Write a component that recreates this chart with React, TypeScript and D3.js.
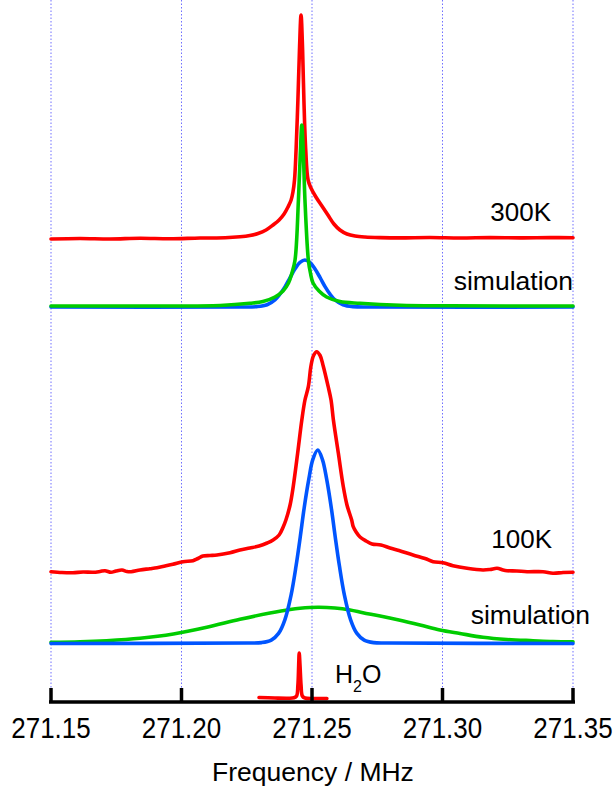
import React from "react";
import * as d3 from "d3";

// ---- Data (frequency in MHz, intensity in a.u. with vertical offsets) ----
const TICKS = [271.15, 271.2, 271.25, 271.3, 271.35];
const TICK_LABELS = ["271.15", "271.20", "271.25", "271.30", "271.35"];

// 300 K measured spectrum
const F_300K = [271.15, 271.1611, 271.1726, 271.1841, 271.1956, 271.2071, 271.2167, 271.2224, 271.2262, 271.2293, 271.2324, 271.2351, 271.2374, 271.2393, 271.2408, 271.242, 271.2427, 271.2433, 271.2439, 271.2446, 271.2452, 271.2458, 271.2464, 271.2469, 271.2476, 271.2485, 271.2496, 271.2515, 271.2538, 271.2561, 271.2584, 271.2607, 271.2634, 271.2665, 271.2703, 271.2761, 271.2837, 271.2952, 271.3067, 271.3182, 271.3297, 271.3412, 271.35];
const I_300K = [463, 463.5, 463, 463.7, 463.2, 464, 464.2, 465.2, 466.5, 468.5, 472, 477, 482, 488, 495, 502, 510, 522, 552, 602, 652, 687, 652, 602, 552, 522, 514, 505, 496, 487, 478, 472, 468, 466, 465, 464.4, 464.1, 464.5, 464, 464.4, 464.1, 464.4, 464.3];

// 300 K simulation (blue, gaussian-like)
const F_SIM300_B = [271.15, 271.2224, 271.2289, 271.2328, 271.2358, 271.2377, 271.2397, 271.2416, 271.2435, 271.2454, 271.2473, 271.2492, 271.2511, 271.2531, 271.255, 271.2569, 271.2588, 271.2619, 271.2657, 271.2722, 271.35];
const I_SIM300_B = [395, 395, 395.4, 397.3, 402.2, 407.8, 415.4, 424.4, 433.2, 439.6, 442, 439.6, 433.2, 424.4, 415.4, 407.8, 402.2, 397.3, 395.4, 395, 395];

// 300 K simulation (green, narrow lorentzian-like)
const F_SIM300_G = [271.15, 271.1879, 271.2148, 271.2262, 271.2312, 271.2358, 271.2389, 271.241, 271.2423, 271.2435, 271.2448, 271.2455, 271.2461, 271.2467, 271.2473, 271.2486, 271.2494, 271.2504, 271.2527, 271.2556, 271.2607, 271.2684, 271.2837, 271.3029, 271.35];
const I_SIM300_G = [396, 396, 396.5, 398.7, 400.5, 405, 411, 419, 429, 442, 502, 547, 577, 547, 502, 442, 429, 419, 411, 405, 400.5, 398.7, 396.7, 396.2, 396];

// 100 K measured spectrum
const F_100K = [271.15, 271.1542, 271.1584, 271.1623, 271.1661, 271.1688, 271.1707, 271.173, 271.1749, 271.1772, 271.1791, 271.1807, 271.1841, 271.1879, 271.1906, 271.1937, 271.1967, 271.2006, 271.2044, 271.2063, 271.2082, 271.2109, 271.2136, 271.2186, 271.2224, 271.2262, 271.2297, 271.2328, 271.2351, 271.2374, 271.239, 271.24, 271.2416, 271.2428, 271.2445, 271.2461, 271.2473, 271.2486, 271.2496, 271.2506, 271.2518, 271.2531, 271.2543, 271.2562, 271.2573, 271.2582, 271.2601, 271.262, 271.2634, 271.2652, 271.2658, 271.2669, 271.2684, 271.2707, 271.273, 271.2764, 271.2799, 271.2833, 271.2887, 271.2933, 271.2964, 271.3002, 271.304, 271.3094, 271.3155, 271.3182, 271.3209, 271.3232, 271.3247, 271.3285, 271.3324, 271.3385, 271.3423, 271.3462, 271.35];
const I_100K = [130.3, 129.5, 129.3, 130, 129.7, 130.5, 131.3, 129.7, 131, 132, 130.5, 130.3, 132, 133.3, 134.3, 136, 137.7, 140.3, 141.3, 143.5, 146, 146.5, 147, 149.3, 152, 154, 156, 159, 162, 167, 175.3, 182, 197, 215.3, 248.7, 282, 302, 315.3, 336, 346.5, 350.3, 346.5, 336, 315.3, 302, 282, 248.7, 215.3, 197, 182, 175.3, 170, 165, 161, 158, 157, 154, 151.5, 147, 143.5, 140.3, 139.3, 136.3, 133.7, 132, 132.5, 133.7, 132, 131.3, 131, 130.3, 130.3, 128.7, 129.5, 129.7];

// 100 K simulation (blue, narrow)
const F_SIM100_B = [271.15, 271.2254, 271.2307, 271.2344, 271.2372, 271.2396, 271.242, 271.2439, 271.2455, 271.247, 271.2488, 271.2503, 271.2522, 271.254, 271.2556, 271.2574, 271.2589, 271.2605, 271.2624, 271.2648, 271.2672, 271.27, 271.2736, 271.279, 271.35];
const I_SIM100_B = [58.5, 59, 59.4, 61.9, 68.6, 82.2, 107.2, 136.2, 165.1, 194.1, 223.1, 242.4, 252, 242.4, 223.1, 194.1, 165.1, 136.2, 107.2, 82.2, 68.6, 61.9, 59.4, 59, 58.5];

// 100 K simulation (green, broad)
const F_SIM100_G = [271.15, 271.1611, 271.1713, 271.1841, 271.1969, 271.2097, 271.2224, 271.2339, 271.2416, 271.2454, 271.2523, 271.2588, 271.2646, 271.2695, 271.2761, 271.2833, 271.2914, 271.299, 271.3067, 271.3155, 271.3247, 271.3347, 271.3423, 271.35];
const I_SIM100_G = [59.7, 60.2, 61.3, 63.7, 68, 74.7, 82.7, 89, 92.5, 93.7, 94.7, 94, 92, 89.3, 86, 82, 77, 72, 68.5, 64.7, 62.5, 61.3, 60.5, 60.3];

// H2O reference
const F_H2O = [271.2297, 271.2358, 271.2408, 271.2431, 271.2441, 271.2446, 271.2449, 271.2451, 271.2454, 271.2458, 271.2463, 271.2473, 271.2511, 271.2557];
const I_H2O = [4.5, 4, 3.8, 4.2, 6, 17, 37, 49, 37, 17, 6, 4, 3.5, 3.5];

const FONT = "'Liberation Sans', Arial, Helvetica, sans-serif";
const RED = "#ff0000";
const GREEN = "#00cc00";
const BLUE = "#0055ff";
const GRID = "#6f6fff";

export default function App() {
  const W = 616;
  const H = 787;
  const x = d3.scaleLinear().domain([271.15, 271.35]).range([51, 573]);
  const y = d3.scaleLinear().domain([0, 702]).range([702, 0]);
  const line = d3
    .line<[number, number]>()
    .x((d) => x(d[0]))
    .y((d) => y(d[1]))
    .curve(d3.curveCatmullRom.alpha(0.5));
  const path = (f: number[], v: number[]) =>
    line(f.map((fi, i) => [fi, v[i]] as [number, number])) || "";

  const axisY = y(0);
  const tickLen = 14;

  const series = [
    { f: F_300K, v: I_300K, c: RED },
    { f: F_SIM300_B, v: I_SIM300_B, c: BLUE },
    { f: F_SIM300_G, v: I_SIM300_G, c: GREEN },
    { f: F_100K, v: I_100K, c: RED },
    { f: F_SIM100_G, v: I_SIM100_G, c: GREEN },
    { f: F_SIM100_B, v: I_SIM100_B, c: BLUE },
    { f: F_H2O, v: I_H2O, c: RED },
  ];

  return (
    <svg
      width={W}
      height={H}
      style={{ position: "absolute", left: 0, top: 0, background: "#fff" }}
      fontFamily={FONT}
    >
      <rect x={0} y={0} width={W} height={H} fill="#fff" />
      {TICKS.map((t) => (
        <line
          key={"g" + t}
          x1={x(t)}
          x2={x(t)}
          y1={y(702)}
          y2={axisY - tickLen}
          stroke={GRID}
          strokeWidth={1}
          strokeDasharray="1.5,2"
        />
      ))}
      {series.map((s, i) => (
        <path
          key={i}
          d={path(s.f, s.v)}
          fill="none"
          stroke={s.c}
          strokeWidth={3.6}
          strokeLinejoin="round"
          strokeLinecap="round"
        />
      ))}
      {/* axis */}
      <line x1={x(271.15) - 2} x2={x(271.35) + 2} y1={axisY} y2={axisY} stroke="#000" strokeWidth={3.5} />
      {TICKS.map((t, i) => (
        <g key={"t" + t}>
          <line x1={x(t)} x2={x(t)} y1={axisY} y2={axisY - tickLen} stroke="#000" strokeWidth={3.5} />
          <text
            transform={`translate(${x(t)},738) scale(1,1.12)`}
            textAnchor="middle"
            fontSize={26}
            fill="#000"
          >
            {TICK_LABELS[i]}
          </text>
        </g>
      ))}
      <text x={313} y={781} textAnchor="middle" fontSize={26.5} fill="#000">
        Frequency / MHz
      </text>
      <text x={551} y={220.5} textAnchor="end" fontSize={26} fill="#000">300K</text>
      <text x={573} y={290} textAnchor="end" fontSize={26.5} fill="#000">simulation</text>
      <text x={552} y={548.3} textAnchor="end" fontSize={26} fill="#000">100K</text>
      <text x={590} y={624} textAnchor="end" fontSize={26.5} fill="#000">simulation</text>
      <text x={335} y={683.3} fontSize={25} fill="#000">
        H<tspan fontSize={16} dy={8.7}>2</tspan><tspan dy={-8.7}>O</tspan>
      </text>
    </svg>
  );
}
